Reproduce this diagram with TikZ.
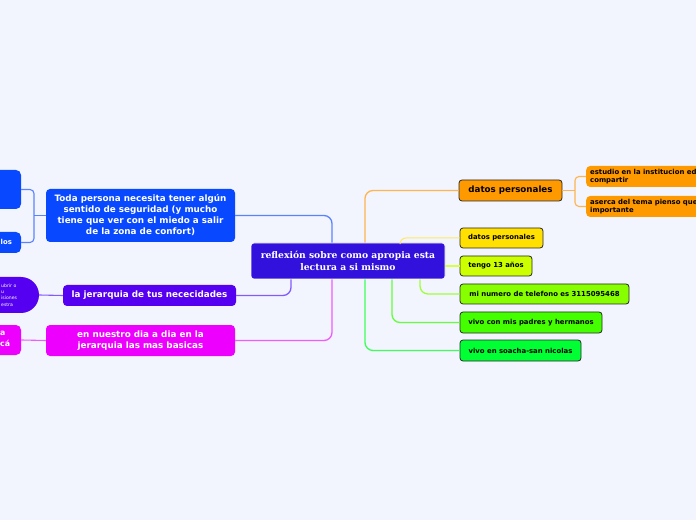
\documentclass[tikz,border=0pt]{standalone}
\usepackage{fontspec}
\setmainfont{DejaVu Sans}
\newfontfamily\serifb{DejaVu Serif}
\usetikzlibrary{calc}
\definecolor{bg}{RGB}{242,245,253}
\definecolor{cmain}{RGB}{51,17,221}
\definecolor{cblue}{RGB}{8,72,255}
\definecolor{cviol}{RGB}{85,0,240}
\definecolor{cmag}{RGB}{238,0,255}
\definecolor{corg}{RGB}{255,153,0}
\definecolor{cyel}{RGB}{255,224,0}
\definecolor{clim}{RGB}{204,255,0}
\definecolor{cgr1}{RGB}{136,255,0}
\definecolor{cgr2}{RGB}{68,255,0}
\definecolor{cgr3}{RGB}{0,255,51}
\definecolor{lblue}{RGB}{90,130,255}
\definecolor{lviol}{RGB}{130,90,255}
\definecolor{lmag}{RGB}{240,90,255}
\definecolor{lorg}{RGB}{255,180,80}
\definecolor{lyel}{RGB}{255,232,100}
\definecolor{llim}{RGB}{215,255,70}
\definecolor{lgr1}{RGB}{160,255,60}
\definecolor{lgr2}{RGB}{100,255,60}
\definecolor{lgr3}{RGB}{60,255,90}
\tikzset{
  x=1pt,y=1pt,
  mainbox/.style={fill=cmain,draw=white,line width=0.6pt,rounded corners=3pt,text=white,align=center,inner sep=0pt,minimum width=194pt,minimum height=36pt,font=\serifb\bfseries\fontsize{9.2}{11.5}\selectfont},
  leftbox/.style={rounded corners=4pt,text=white,align=center,inner sep=0pt,font=\bfseries\fontsize{8.8}{11}\selectfont},
  rightbox/.style={rounded corners=3pt,draw={rgb,255:red,40;green,40;blue,40},line width=0.8pt,align=left,inner sep=0pt,anchor=center,font=\bfseries\fontsize{6.9}{8}\selectfont},
  subbox/.style={rounded corners=4pt,fill=corg,align=left,inner sep=0pt},
  subtext/.style={anchor=west,inner sep=0pt,align=left,font=\bfseries\fontsize{6.9}{8.2}\selectfont},
  clipbox/.style={rounded corners=5pt,text=white,inner sep=0pt},
  conn/.style={line width=1.3pt,rounded corners=8pt},
  twig/.style={line width=1.1pt},
}
\begin{document}
\begin{tikzpicture}
\fill[bg] (0,0) rectangle (696,520);
\useasboundingbox (0,0) rectangle (696,520);
\clip (0,0) rectangle (696,520);

% central
\node[mainbox] (center) at (348,259) {reflexión sobre como apropia esta\\lectura a si mismo};

% left main nodes
\node[leftbox,fill=cblue,minimum width=189pt,minimum height=53pt] (L1) at (140.5,304.5)
  {Toda persona necesita tener algún\\sentido de seguridad (y mucho\\tiene que ver con el miedo a salir\\de la zona de confort)};
\node[leftbox,fill=cviol,minimum width=173pt,minimum height=21pt] (L2) at (149.5,224.5)
  {la jerarquia de tus nececidades};
\node[leftbox,fill=cmag,minimum width=189pt,minimum height=31pt] (L3) at (140.5,179.5)
  {en nuestro dia a dia en la\\jerarquia las mas basicas};

% left children (cut by the edge)
\node[clipbox,fill=cblue,minimum width=42pt,minimum height=39pt] (A) at (0,330.5) {};
\node[clipbox,fill=cblue,minimum width=42pt,minimum height=21pt] (B) at (0,277.5) {};
\node[anchor=west,text=white,inner sep=0pt,font=\bfseries\fontsize{6.9}{8}\selectfont] (Bt) at (0.5,278.5) {los};
\node[rounded corners=18pt,fill=cviol,minimum width=80pt,minimum height=36pt,inner sep=0pt] (P) at (-1,225) {};
\node[anchor=west,text=white,align=left,inner sep=0pt,font=\fontsize{4.6}{6.3}\selectfont] (Pt) at (1,225)
  {ubrir o\\u\\isiones\\estra};
\node[clipbox,fill=cmag,minimum width=42pt,minimum height=30pt] (C) at (0,180) {};
\node[anchor=west,text=white,align=left,inner sep=0pt,font=\bfseries\fontsize{7.8}{11}\selectfont] (Ct) at (0,181) {a\\cá};

% right nodes
\node[rightbox,fill=corg,minimum width=103pt,minimum height=21pt,align=center,font=\bfseries\fontsize{8.7}{10}\selectfont] (R1) at (510.5,329.5) {datos personales};
\node[rightbox,fill=cyel,minimum width=83pt,minimum height=20pt] (R2) at (501.5,282) {datos personales};
\node[rightbox,fill=clim,minimum width=72pt,minimum height=20pt] (R3) at (496,254) {tengo 13 años};
\node[rightbox,fill=cgr1,minimum width=169pt,minimum height=20pt] (R4) at (544.5,226) {mi numero de telefono es 3115095468};
\node[rightbox,fill=cgr2,minimum width=142pt,minimum height=21pt] (R5) at (531,197.5) {vivo con mis padres y hermanos};
\node[rightbox,fill=cgr3,minimum width=121pt,minimum height=21pt] (R6) at (520.5,169.5) {vivo en soacha-san nicolas};

% orange sub-nodes (cut by the right edge)
\node[subbox,anchor=west,minimum width=130pt,minimum height=21pt] (S1) at (586,343.5) {};
\node[subtext] (S1t) at (590,343.5) {estudio en la institucion ed\\compartir};
\node[subbox,anchor=west,minimum width=130pt,minimum height=21pt] (S2) at (586,313.5) {};
\node[subtext] (S2t) at (590,313.5) {aserca del tema pienso que\\importante};

% connectors from centre
\draw[conn,lblue] (L1.east) -| ([xshift=-16pt]center.north);
\draw[conn,lviol] (L2.east) -| ([xshift=-57pt]center.south);
\draw[conn,lmag] (L3.east) -| ([xshift=-16pt]center.south);
\draw[conn,lorg] (R1.west) -| ([xshift=17pt]center.north);
\draw[conn,lyel,line width=1pt,rounded corners=6pt] (R2.west) -| ([xshift=52pt]center.north);
\draw[conn,llim] (R3.west) -- (R3.west -| center.east);
\draw[conn,lgr1] (R4.west) -| ([xshift=72pt]center.south);
\draw[conn,lgr2] (R5.west) -| ([xshift=44pt]center.south);
\draw[conn,lgr3] (R6.west) -| ([xshift=17pt]center.south);

% secondary connectors
\coordinate (bl) at (34,304.5);
\draw[twig,lblue] (L1.west) -- (bl);
\draw[twig,lblue,rounded corners=4pt] (A.east) -| (bl) |- (B.east);
\draw[twig,lviol] (L2.west) -- (P.east);
\draw[twig,lmag] (L3.west) -- (C.east);
\coordinate (br) at (575,329.5);
\draw[twig,lorg] (R1.east) -- (br);
\draw[twig,lorg,rounded corners=4pt] (S1.west) -| (br) |- (S2.west);
\end{tikzpicture}
\end{document}
